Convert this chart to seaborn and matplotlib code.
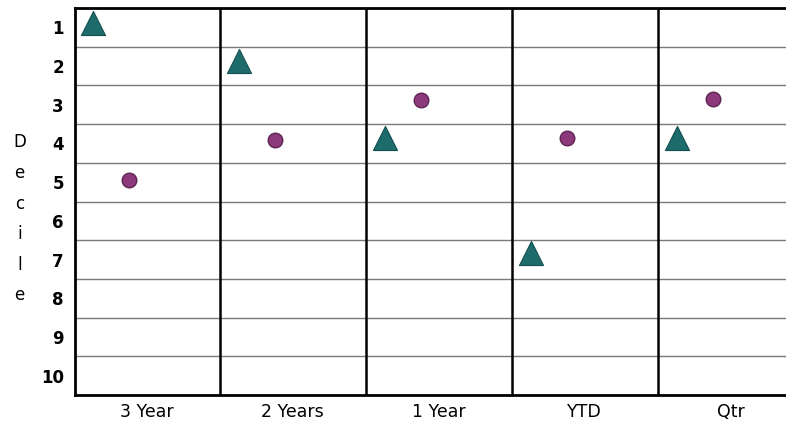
import pandas as pd
import matplotlib
matplotlib.use("Agg")
import matplotlib.pyplot as plt
import seaborn as sns

################################################
# Data
################################################

periods = ["3 Year", "2 Years", "1 Year", "YTD", "Qtr"]
triangle_decile = [0.9, 1.88, 3.87, 6.84, 3.85]
circle_decile = [4.94, 3.91, 2.88, 3.86, 2.85]
decile_ticks = [1, 2, 3, 4, 5, 6, 7, 8, 9, 10]

rows = []
for i, p in enumerate(periods):
    rows.append({"period": p, "x": i + 0.13, "decile": triangle_decile[i], "kind": "tri"})
    rows.append({"period": p, "x": i + 0.38, "decile": circle_decile[i], "kind": "dot"})
df = pd.DataFrame(rows)

################################################
# Plot
################################################

sns.set_style("white")
plt.rcParams["font.family"] = ["DejaVu Sans"]
plt.rcParams["text.color"] = "black"
plt.rcParams["xtick.color"] = "black"
plt.rcParams["ytick.color"] = "black"
plt.rcParams["axes.labelcolor"] = "black"

fig = plt.figure(figsize=(7.86, 4.26), dpi=100)
ax = fig.add_axes([75 / 786, 1 - 395 / 426, 1 - 75 / 786, (395 - 8) / 426])

# horizontal row lines between deciles
for y in range(1, 10):
    ax.axhline(y + 0.5, color="#7a7a7a", lw=1.0, zorder=1)
# vertical separators between periods
for xv in range(1, 5):
    ax.axvline(xv, color="black", lw=1.8, zorder=1)

sns.scatterplot(data=df[df["kind"] == "tri"], x="x", y="decile", marker="^",
                s=300, color="#1d6b6b", edgecolor="#134e4e", linewidth=0.8,
                ax=ax, zorder=3)
sns.scatterplot(data=df[df["kind"] == "dot"], x="x", y="decile", marker="o",
                s=110, color="#8c3a7c", edgecolor="#5e2453", linewidth=1.0,
                ax=ax, zorder=3)

ax.set_xlim(0.01, 711 / 146 + 0.01)
ax.set_ylim(10.5, 0.5)

ax.set_yticks(decile_ticks)
ax.set_yticklabels([str(t) for t in decile_ticks], fontsize=12, fontweight="bold")
ax.set_xticks([i + 0.5 for i in range(len(periods))])
ax.set_xticklabels(periods, fontsize=12.5)
ax.tick_params(axis="both", length=0)
ax.tick_params(axis="y", pad=8)
ax.tick_params(axis="x", pad=6)

ax.set_xlabel("")
ax.set_ylabel("D\ne\nc\ni\nl\ne", rotation=0, fontsize=12, linespacing=1.9,
              va="center")
ax.yaxis.set_label_coords(-0.078, 0.455)

for side in ["left", "top", "bottom"]:
    ax.spines[side].set_color("black")
    ax.spines[side].set_linewidth(2)
ax.spines["right"].set_visible(False)

fig.savefig("out.png", dpi=100)
